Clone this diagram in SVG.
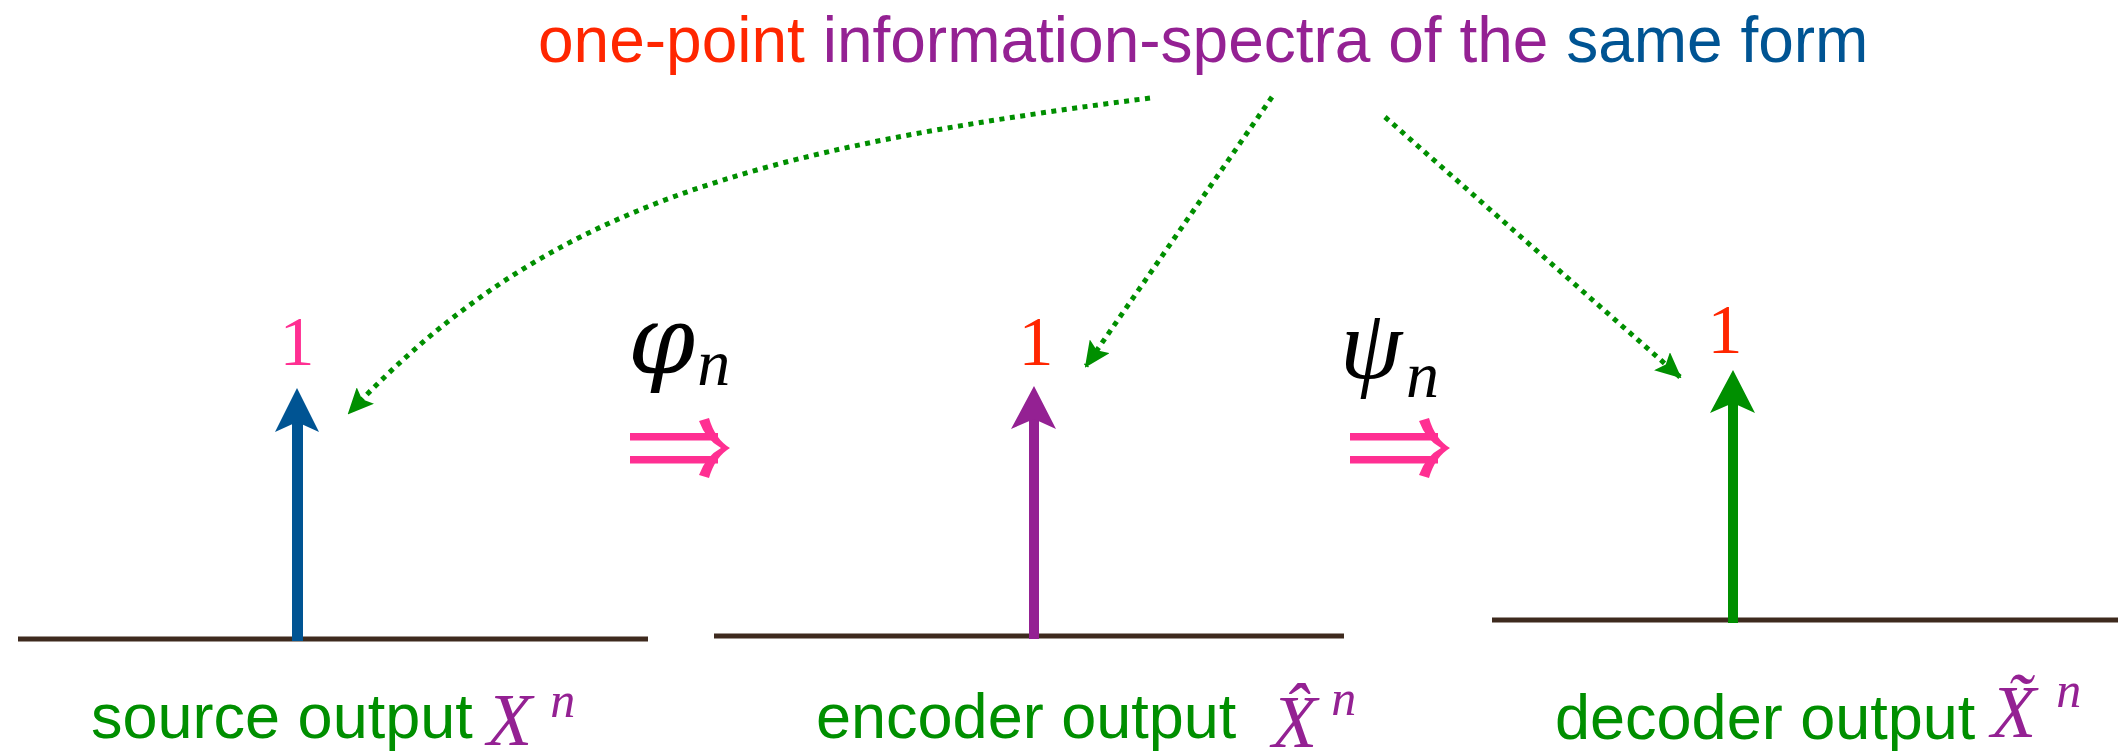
<svg xmlns="http://www.w3.org/2000/svg" width="2118" height="751" viewBox="0 0 2118 751">
<style>
.sans{font-family:"Liberation Sans",Arial,sans-serif;}
.serif{font-family:"Liberation Serif","Times New Roman",serif;}
.math{font-family:"Liberation Serif","Times New Roman",serif;font-style:italic;}
.base{stroke:#3e2a1e;stroke-width:5;fill:none;}
.dot{stroke:#008f00;stroke-width:5;fill:none;stroke-dasharray:5 5.5;}
.green{fill:#008f00;}
.purple{fill:#942193;}
.blue{fill:#005493;}
.red{fill:#ff2600;}
.pink{fill:#ff2f92;}
</style>
<defs>
<marker id="gh" viewBox="0 0 26 24" refX="24" refY="12" markerWidth="26" markerHeight="24" markerUnits="userSpaceOnUse" orient="auto">
<path d="M0,0 L26,12 L0,24 L5,12 Z" fill="#008f00"/>
</marker>
<g id="dbl">
<rect x="0" y="-15" width="88" height="7.5"/>
<rect x="0" y="8" width="88" height="7.5"/>
<path d="M79,-30 Q85,-9 100,0 Q85,9 79,30 L69,27 Q76,8 91,0 Q76,-8 69,-27 Z"/>
</g>
</defs>

<g id="title">
<text class="sans" x="538" y="62" font-size="64"><tspan class="red">one-point</tspan> <tspan class="purple">information-spectra of the</tspan> <tspan class="blue">same form</tspan></text>
</g>

<g id="source">
<line class="base" x1="18" y1="639" x2="648" y2="639"/>
<rect class="blue" x="292" y="420" width="11" height="221"/>
<polygon class="blue" points="297,388 319,432 297,422 275,432"/>
<text class="serif pink" x="297" y="365" font-size="70" text-anchor="middle">1</text>
<text class="sans green" x="91" y="738" font-size="63">source output</text>
<text class="math purple" x="487" y="745" font-size="74">X<tspan font-size="50" dx="18" dy="-28">n</tspan></text>
</g>

<g id="encoder">
<line class="base" x1="714" y1="636" x2="1344" y2="636"/>
<rect class="purple" x="1029" y="418" width="10" height="221"/>
<polygon class="purple" points="1034,386 1056,429 1034,419 1011,429"/>
<text class="serif red" x="1036" y="365" font-size="70" text-anchor="middle">1</text>
<text class="sans green" x="816" y="738" font-size="63">encoder output</text>
<text class="math purple" x="1272" y="747" font-size="74">X̂<tspan font-size="50" dx="14" dy="-32">n</tspan></text>
</g>

<g id="decoder">
<line class="base" x1="1492" y1="620" x2="2118" y2="620"/>
<rect class="green" x="1728" y="402" width="10" height="221"/>
<polygon class="green" points="1733,370 1755,413 1733,403 1710,413"/>
<text class="serif red" x="1725" y="353" font-size="70" text-anchor="middle">1</text>
<text class="sans green" x="1555" y="739" font-size="63">decoder output</text>
<text class="math purple" x="1991" y="737" font-size="74">X̃<tspan font-size="50" dx="20" dy="-30">n</tspan></text>
</g>

<g id="map-phi">
<use href="#dbl" class="pink" transform="translate(630,448)"/>
<text x="628" y="373" font-size="96" fill="#000" style="font-family:'DejaVu Serif',serif;font-style:italic">φ<tspan class="math" font-size="66" dx="2" dy="12">n</tspan></text>
</g>

<g id="map-psi">
<use href="#dbl" class="pink" transform="translate(1350,448)"/>
<text class="math" x="1340" y="378" font-size="100" fill="#000">ψ<tspan font-size="66" dx="4" dy="19">n</tspan></text>
</g>

<g id="connectors">
<path class="dot" d="M1150,98 C750,150 545,205 349,413" marker-end="url(#gh)"/>
<path class="dot" d="M1272,97 L1086,366" marker-end="url(#gh)"/>
<path class="dot" d="M1385,117 L1680,377" marker-end="url(#gh)"/>
</g>
</svg>
